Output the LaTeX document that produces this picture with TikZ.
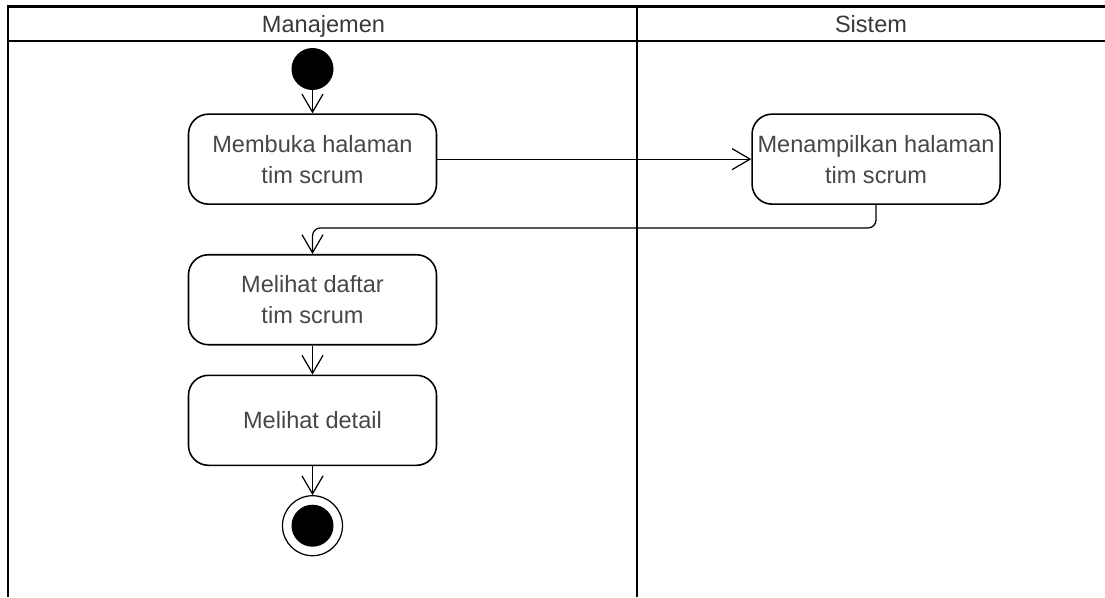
\documentclass[tikz,border=0pt]{standalone}
\usepackage{fontspec}
\setmainfont{Liberation Sans}
\usetikzlibrary{arrows.meta, positioning}

\begin{document}
\begin{tikzpicture}
    \tikzset{
        act/.style = {rectangle, draw=black, line width=0.9pt, rounded corners=0.4cm, minimum width=4.96cm, minimum height=1.8cm, inner sep=0pt, align=center, text=black!72, font=\fontsize{13.4}{17.6}\selectfont},
        line/.style = {draw=black, line width=0.7pt, -{Straight Barb[length=0.36cm, width=0.42cm, line width=0.7pt]}},
        start/.style = {circle, fill=black, minimum size=0.84cm, inner sep=0pt},
        stop/.style = {circle, draw=black, line width=0.7pt, minimum size=1.2cm, inner sep=0pt, path picture={\fill[black] (path picture bounding box.center) circle (0.42cm);}},
        lane/.style = {draw=black, line width=1.5pt},
        lanetitle/.style = {anchor=base, text=black!78, font=\fontsize{13.4}{16}\selectfont},
    }
    \useasboundingbox (0,0) rectangle (22.1,-11.94);

    % swimlanes
    \draw[lane] (0.16,-11.94) |- (22.1,-0.13);
    \draw[lane] (0.16,-0.82) -- (22.1,-0.82);
    \draw[lane] (12.74,-0.13) -- (12.74,-11.94);
    \node[lanetitle](manajemen) at (6.47,-0.64){Manajemen};
    \node[lanetitle](sistem) at (17.42,-0.64){Sistem};

    \node[start](init) at (6.25,-1.38){};

    \node[act](open)[below = 0.46cm of init]{Membuka halaman\\tim scrum};
    \node[act](show)[right = 6.28cm of open]{Menampilkan halaman\\tim scrum};

    \node[act](list)[below = 0.98cm of open]{Melihat daftar\\tim scrum};
    \node[act](detail)[below = 0.58cm of list]{Melihat detail};

    \node[stop](final)[below = 0.58cm of detail]{};

    \path [line] (init) -- (open);
    \path [line] (open) -- (show);
    \path [line, rounded corners=0.16cm] (show.south) -- ++(0,-0.46) -| (list.north);
    \path [line] (list) -- (detail);
    \path [line] (detail) -- (final);

\end{tikzpicture}
\end{document}
